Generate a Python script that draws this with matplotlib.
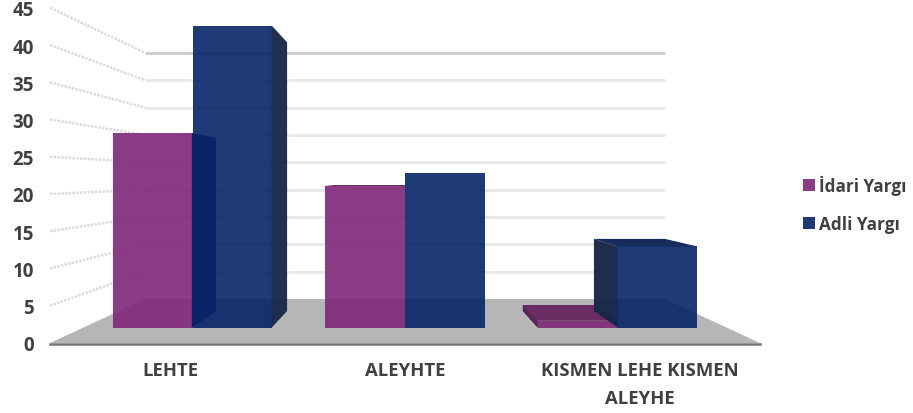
import matplotlib
matplotlib.use("Agg")
import matplotlib.pyplot as plt
from matplotlib.patches import Polygon, Patch

categories = ["LEHTE", "ALEYHTE", "KISMEN LEHE KISMEN\nALEYHE"]
idari = [28.8, 21, 1]
adli = [44.7, 22.9, 12]
ticks = [0, 5, 10, 15, 20, 25, 30, 35, 40, 45]

plt.rcParams["font.family"] = ["Open Sans", "DejaVu Sans"]
plt.rcParams["font.weight"] = "bold"
TEXT = "#404040"

# fake 3d: depth 0 is the front edge of the floor, depth 1 the back wall
CX = 405
BAR_W = 0.376
D_FRONT = 0.352
D_BACK = 0.727


def px(x, d):
    return CX + x * (234.6 - 62.8 * d)


def py(v, d):
    return (344 - 44 * d) - v * (7.45 - 1.98 * d)


fig = plt.figure(figsize=(9.13, 4.14), dpi=100)
ax = fig.add_axes([0, 0, 1, 1])
ax.set_xlim(0, 913)
ax.set_ylim(414, 0)
ax.axis("off")

# floor
ax.add_patch(Polygon([(px(-1.513, 0), py(0, 0)), (px(1.513, 0), py(0, 0)),
                      (px(1.513, 1), py(0, 1)), (px(-1.513, 1), py(0, 1))],
                     fc="#b6b6b6", ec="none", zorder=1))
ax.plot([px(-1.513, 0), px(1.513, 0)], [py(0, 0) + 1, py(0, 0) + 1],
        color="#757575", lw=1.8, zorder=2)

# grid on both walls and tick labels
for t in ticks:
    if t > 0:
        c = "#cbcbcb" if t == 45 else "#e8e8e8"
        ax.plot([px(-1.513, 1), px(1.513, 1)], [py(t, 1), py(t, 1)], color=c, lw=2, zorder=1,
                solid_capstyle="butt")
        ax.plot([px(-1.513, 0), px(-1.513, 1)], [py(t, 0), py(t, 1)], color="#dcdcdc", lw=1.8,
                ls=(0, (1, 0.5)), zorder=1)
    ax.text(34, py(t, 0) + 2.5, str(t), ha="right", va="center", fontsize=13.5, color=TEXT)


def quad(x0, d0, v0, x1, d1, v1, x2, d2, v2, x3, d3, v3, color, z, alpha=1.0):
    pts = [(px(x0, d0), py(v0, d0)), (px(x1, d1), py(v1, d1)),
           (px(x2, d2), py(v2, d2)), (px(x3, d3), py(v3, d3))]
    ax.add_patch(Polygon(pts, fc=color, ec="none", alpha=alpha, zorder=z))


def bar(x0, v, front, side, top, z, side_on_top=False):
    x1 = x0 + BAR_W
    # top face, only seen when the bar top is under eye level
    if py(v, D_BACK) < py(v, D_FRONT):
        quad(x0, D_FRONT, v, x1, D_FRONT, v, x1, D_BACK, v, x0, D_BACK, v, top, z)
    # side faces, only the one turned to the viewer
    if x1 < 0:
        quad(x1 - 0.003, D_FRONT, v, x1, D_BACK, v, x1, D_BACK, 0, x1 - 0.003, D_FRONT, 0, side,
             z + 3 if side_on_top else z, alpha=0.95)
    if x0 > 0:
        quad(x0, D_FRONT, v, x0, D_BACK, v, x0, D_BACK, 0, x0, D_FRONT, 0, side, z, alpha=0.97)
    quad(x0, D_FRONT, v, x1, D_FRONT, v, x1, D_FRONT, 0, x0, D_FRONT, 0, front, z + 1, alpha=0.9)


for i in range(len(categories)):
    c = i - 1
    bar(c - BAR_W, idari[i], "#7f2778", "#061f63", "#6b2c63", 3, side_on_top=True)
    if i == 2:
        # this side sits left of the purple bar and shows as dark purple
        quad(c - BAR_W, D_FRONT, idari[i], c - BAR_W, D_BACK, idari[i], c - BAR_W, D_BACK, 0,
             c - BAR_W, D_FRONT, 0, "#5a2553", 5)
    bar(c, adli[i], "#062467", "#172648", "#172c5c", 5)
    lines = categories[i].split("\n")
    ax.text(px(c, 0), 371, lines[0], ha="center", va="center", fontsize=13.3, color=TEXT)
    if len(lines) > 1:
        ax.text(px(c, 0), 399, lines[1], ha="center", va="center", fontsize=13.3, color=TEXT)

handles = [Patch(fc="#8c3d86", label="İdari Yargı"), Patch(fc="#1f3a76", label="Adli Yargı")]
ax.legend(handles=handles, loc="center left", bbox_to_anchor=(788, 205),
          bbox_transform=ax.transData, frameon=False, fontsize=12.3, handlelength=0.7,
          handleheight=0.7, handletextpad=0.2, labelspacing=1.15, labelcolor=TEXT)

fig.savefig("out.png", dpi=100)
